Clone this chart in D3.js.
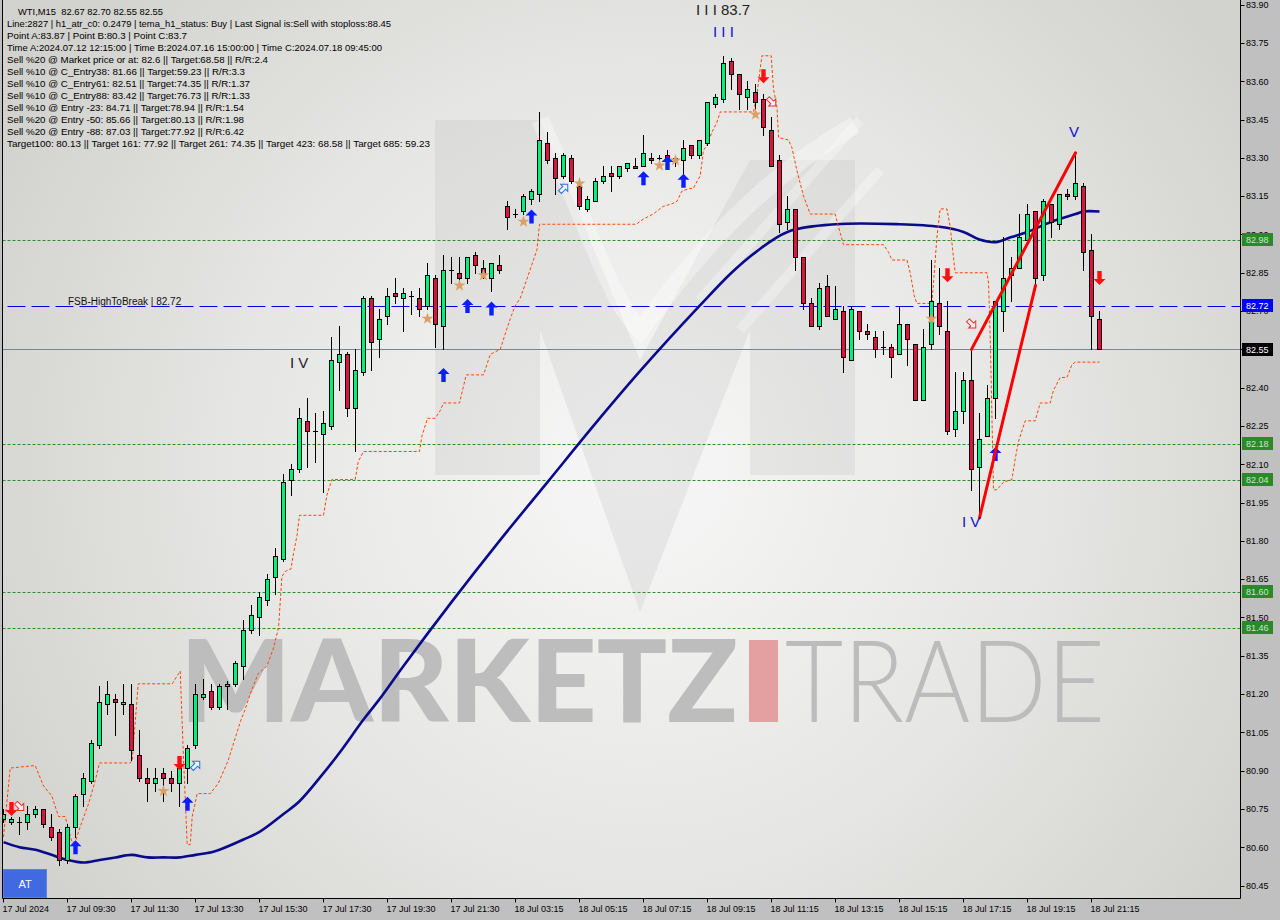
<!DOCTYPE html>
<html><head><meta charset="utf-8">
<script src="https://cdn.jsdelivr.net/npm/d3@7"></script>
<style>html,body{margin:0;padding:0;background:#c0c0c0;}svg{display:block;}text{white-space:pre;}</style>
</head><body><svg id="c" width="1280" height="920"></svg>
<script>
// ---------------- DATA ----------------
const candleOpen  = [80.71,80.70,80.70,80.70,80.73,80.75,80.68,80.66,80.55,80.68,80.81,80.86,81.00,81.16,81.18,81.16,81.16,80.96,80.87,80.85,80.89,80.87,80.85,80.91,81.00,81.19,81.21,81.15,81.23,81.24,81.31,81.45,81.50,81.57,81.66,81.73,82.04,82.08,82.27,82.23,82.22,82.25,82.50,82.53,82.32,82.46,82.75,82.59,82.68,82.77,82.75,82.76,82.75,82.72,82.83,82.64,82.86,82.85,82.83,82.92,82.87,82.83,82.88,83.11,83.08,83.09,83.14,83.16,83.36,83.30,83.23,83.30,83.19,83.10,83.13,83.21,83.24,83.23,83.26,83.27,83.27,83.30,83.30,83.31,83.30,83.29,83.35,83.31,83.36,83.51,83.53,83.68,83.63,83.54,83.56,83.53,83.41,83.29,83.05,83.10,82.91,82.73,82.64,82.80,82.67,82.70,82.51,82.70,82.62,82.60,82.56,82.56,82.53,82.65,82.57,82.35,82.57,82.73,82.62,82.24,82.31,82.43,82.09,82.21,82.36,82.70,82.84,82.87,82.98,83.09,82.84,83.12,83.04,83.16,83.15,83.19,82.94,82.67];
const candleHigh  = [80.75,80.72,80.72,80.76,80.76,80.75,80.73,80.67,80.69,80.81,80.89,81.02,81.23,81.25,81.20,81.24,81.24,81.06,80.91,80.91,80.91,80.90,80.94,81.00,81.24,81.26,81.24,81.24,81.25,81.33,81.49,81.55,81.60,81.67,81.77,82.06,82.10,82.32,82.36,82.30,82.31,82.60,82.64,82.54,82.55,82.76,82.76,82.71,82.79,82.83,82.79,82.78,82.79,82.89,82.84,82.92,82.91,82.91,82.91,82.93,82.90,82.89,82.92,83.13,83.10,83.16,83.18,83.48,83.40,83.32,83.32,83.31,83.22,83.15,83.22,83.27,83.27,83.27,83.28,83.30,83.39,83.32,83.31,83.33,83.30,83.37,83.35,83.37,83.52,83.55,83.70,83.69,83.63,83.60,83.59,83.55,83.46,83.31,83.15,83.10,82.91,82.75,82.81,82.84,82.80,82.72,82.72,82.70,82.65,82.62,82.62,82.57,82.72,82.65,82.57,82.63,82.90,82.87,82.74,82.46,82.46,82.55,82.30,82.41,82.74,82.99,82.91,83.08,83.12,83.09,83.14,83.12,83.16,83.18,83.32,83.20,83.00,82.70];
const candleLow   = [80.70,80.69,80.65,80.67,80.72,80.68,80.63,80.53,80.54,80.64,80.76,80.85,80.99,81.12,81.04,81.12,80.94,80.86,80.78,80.82,80.78,80.82,80.76,80.85,80.99,81.18,81.14,81.14,81.14,81.23,81.26,81.44,81.43,81.55,81.59,81.72,81.98,82.07,82.09,82.11,81.99,82.24,82.39,82.29,82.15,82.45,82.47,82.52,82.65,82.73,82.62,82.69,82.68,82.71,82.56,82.55,82.81,82.81,82.81,82.85,82.83,82.78,82.85,83.02,83.07,83.08,83.12,83.13,83.28,83.16,83.22,83.20,83.10,83.09,83.13,83.20,83.17,83.22,83.25,83.26,83.27,83.28,83.29,83.28,83.27,83.24,83.30,83.30,83.35,83.50,83.52,83.57,83.49,83.49,83.49,83.39,83.27,83.01,83.02,82.86,82.71,82.64,82.63,82.68,82.67,82.46,82.51,82.59,82.59,82.52,82.53,82.44,82.53,82.49,82.35,82.35,82.55,82.61,82.22,82.21,82.26,82.00,81.89,82.21,82.28,82.62,82.74,82.87,82.98,82.80,82.82,82.99,83.02,83.14,83.14,82.86,82.55,82.55];
const candleClose = [80.73,80.71,80.70,80.73,80.75,80.69,80.64,80.55,80.68,80.80,80.87,81.01,81.17,81.20,81.17,81.17,80.98,80.87,80.85,80.87,80.87,80.85,80.91,80.99,81.20,81.20,81.15,81.23,81.24,81.32,81.45,81.51,81.58,81.65,81.74,82.03,82.08,82.28,82.23,82.23,82.26,82.51,82.53,82.32,82.47,82.75,82.58,82.67,82.76,82.76,82.77,82.76,82.71,82.84,82.65,82.86,82.86,82.83,82.91,82.88,82.85,82.89,82.86,83.07,83.08,83.15,83.17,83.37,83.29,83.22,83.31,83.21,83.11,83.14,83.21,83.23,83.23,83.27,83.28,83.26,83.32,83.29,83.30,83.30,83.29,83.34,83.31,83.37,83.52,83.54,83.67,83.63,83.55,83.57,83.52,83.42,83.27,83.04,83.10,82.91,82.73,82.64,82.79,82.68,82.71,82.52,82.71,82.62,82.61,82.55,82.56,82.52,82.65,82.59,82.35,82.56,82.74,82.64,82.23,82.31,82.43,82.08,82.20,82.36,82.74,82.83,82.87,82.99,83.08,82.83,83.13,83.05,83.16,83.15,83.20,82.93,82.68,82.55];

// moving average (bar index, price)
const maIdx = [0,2,4,6,8,10,12,14,16,18,20,22,24,26,27,30,32,35,37,40,42,45,47,50,56,62,68,74,80,87,91,94,98,104,112,117,120,122,124,126,128,131,134,135,137];
const maVal = [80.62,80.60,80.59,80.57,80.55,80.54,80.55,80.56,80.57,80.56,80.56,80.56,80.57,80.58,80.59,80.63,80.66,80.73,80.78,80.89,80.97,81.10,81.18,81.31,81.56,81.80,82.03,82.26,82.48,82.72,82.85,82.93,83.01,83.04,83.04,83.03,83.01,82.98,82.97,82.99,83.01,83.05,83.08,83.09,83.09];

// trailing stop step line (bar index, price)
const stopIdx = [0,0.84,3.96,5.0,6.05,6.88,7.71,8.55,8.96,9.59,10.63,11.46,12.0,15.84,16.09,16.84,21.09,22.09,22.46,22.96,23.34,23.59,24.21,25.84,26.84,28.09,29.59,30.21,30.84,31.84,32.93,33.75,34.38,34.8,35.21,35.93,36.25,36.68,37.0,40.0,40.43,41.05,43.96,44.34,45.0,52.0,52.3,53.0,53.96,54.59,55.0,57.0,57.84,60.0,60.84,62.09,62.71,63.34,63.96,64.59,65.59,66.68,67.0,79.09,79.96,81.21,82.46,83.55,84.18,84.8,85.75,86.21,87.09,87.5,87.93,88.55,89.18,89.59,93.75,94.18,94.8,95.96,96.25,96.68,96.88,98.13,98.55,99.18,100.0,100.84,103.96,104.38,105.0,110.0,110.63,111.05,112.93,113.34,113.84,114.18,116.05,116.25,116.68,117.09,117.93,118.34,118.75,118.96,122.93,123.13,123.34,123.75,124.18,125.0,126.05,126.46,126.88,127.71,128.96,129.59,130.84,131.25,132.09,132.93,133.55,133.96,137.0];
const stopVal = [80.64,80.91,80.92,80.84,80.80,80.72,80.72,80.62,80.62,80.68,80.77,80.86,80.93,80.93,80.94,81.24,81.24,81.29,80.98,80.61,80.61,80.72,80.81,80.81,80.85,80.94,81.09,81.14,81.20,81.28,81.31,81.38,81.46,81.66,81.68,81.69,81.75,81.82,81.90,81.90,81.98,82.04,82.04,82.11,82.15,82.15,82.21,82.28,82.28,82.31,82.34,82.34,82.45,82.45,82.53,82.55,82.61,82.67,82.72,82.75,82.84,82.94,83.04,83.04,83.06,83.08,83.11,83.12,83.13,83.17,83.18,83.18,83.23,83.33,83.35,83.40,83.44,83.48,83.48,83.55,83.70,83.70,83.57,83.50,83.38,83.37,83.34,83.25,83.15,83.08,83.08,83.03,82.96,82.96,82.93,82.90,82.90,82.85,82.76,82.73,82.73,82.81,82.99,83.10,83.10,83.03,82.91,82.85,82.85,82.81,82.60,82.00,82.00,82.03,82.04,82.12,82.19,82.27,82.27,82.34,82.34,82.39,82.44,82.44,82.49,82.50,82.50];

// horizontal levels
const greenLevels = [82.98, 82.18, 82.04, 81.60, 81.46];
const fsbLevel = 82.72;
const lastPrice = 82.55;

// signals (bar index, price)
const blueUpIdx = [9,23,55,58,61,66,80,83,85,124];
const blueUpVal = [80.60,80.77,82.45,82.72,82.71,83.07,83.22,83.28,83.21,82.14];
const redDownIdx = [1,22,95,118,137];
const redDownVal = [80.75,80.93,83.62,82.84,82.83];
const hollowBlueIdx = [24,70];
const hollowBlueVal = [80.92,83.18];
const hollowRedIdx = [2,96,121];
const hollowRedVal = [80.76,83.52,82.65];
const starIdx = [20,53,57,60,65,72,82,84,94,116];
const starVal = [80.82,82.67,82.80,82.84,83.05,83.20,83.27,83.29,83.47,82.67];

// zigzag lines
const zigzagA = {idx:[121,134], val:[82.55,83.32]};
const zigzagB = {idx:[122,129], val:[81.89,82.80]};

// axis ticks
const xTickIdx = [0,8,16,24,32,40,48,56,64,72,80,88,96,104,112,120,128,136];
const xTickLabels = ["17 Jul 2024","17 Jul 09:30","17 Jul 11:30","17 Jul 13:30","17 Jul 15:30","17 Jul 17:30","17 Jul 19:30","17 Jul 21:30","18 Jul 03:15","18 Jul 05:15","18 Jul 07:15","18 Jul 09:15","18 Jul 11:15","18 Jul 13:15","18 Jul 15:15","18 Jul 17:15","18 Jul 19:15","18 Jul 21:15"];
const yTickVals = [83.90,83.75,83.60,83.45,83.30,83.15,83.00,82.85,82.70,82.55,82.40,82.25,82.10,81.95,81.80,81.65,81.50,81.35,81.20,81.05,80.90,80.75,80.60,80.45];

const headerLines = [
 "WTI,M15  82.67 82.70 82.55 82.55",
 "Line:2827 | h1_atr_c0: 0.2479 | tema_h1_status: Buy | Last Signal is:Sell with stoploss:88.45",
 "Point A:83.87 | Point B:80.3 | Point C:83.7",
 "Time A:2024.07.12 12:15:00 | Time B:2024.07.16 15:00:00 | Time C:2024.07.18 09:45:00",
 "Sell %20 @ Market price or at: 82.6 || Target:68.58 || R/R:2.4",
 "Sell %10 @ C_Entry38: 81.66 || Target:59.23 || R/R:3.3",
 "Sell %10 @ C_Entry61: 82.51 || Target:74.35 || R/R:1.37",
 "Sell %10 @ C_Entry88: 83.42 || Target:76.73 || R/R:1.33",
 "Sell %10 @ Entry -23: 84.71 || Target:78.94 || R/R:1.54",
 "Sell %20 @ Entry -50: 85.66 || Target:80.13 || R/R:1.98",
 "Sell %20 @ Entry -88: 87.03 || Target:77.92 || R/R:6.42",
 "Target100: 80.13 || Target 161: 77.92 || Target 261: 74.35 || Target 423: 68.58 || Target 685: 59.23"
];
// rendered widths of the header lines (layout)
const headerWidths = [145,384,180,375,261,238,243,243,237,237,237,423];

// ---------------- DRAW ----------------
const svg = d3.select("#c");
const FONT = "'Liberation Sans', Arial, sans-serif";
const P = {left:2.5, right:1240.5, top:0, bottom:898.5};
const x = d3.scaleLinear().domain([0,137]).range([3.5,1099.5]);
const y = d3.scaleLinear().domain([80.45,83.90]).range([885.5,4.7]);
const px = v => Math.round(y(v)) + 0.5;

const defs = svg.append("defs");
const rg = defs.append("radialGradient").attr("id","bg").attr("gradientUnits","userSpaceOnUse")
  .attr("cx",640).attr("cy",470).attr("r",720);
rg.append("stop").attr("offset","0").attr("stop-color","#f7f7f7");
rg.append("stop").attr("offset","0.55").attr("stop-color","#e6e6e4");
rg.append("stop").attr("offset","1").attr("stop-color","#d2d2ce");
defs.append("clipPath").attr("id","clip").append("rect")
  .attr("x",P.left+0.5).attr("y",0).attr("width",P.right-P.left-1).attr("height",P.bottom);

svg.append("rect").attr("width",1280).attr("height",920).attr("fill","#c0c0c0");
svg.append("rect").attr("x",P.left).attr("y",0).attr("width",P.right-P.left).attr("height",P.bottom).attr("fill","url(#bg)");

const g = svg.append("g").attr("clip-path","url(#clip)");

// watermark
const wm = g.append("g");
wm.append("path").attr("d","M435,475 L435,120 L540,120 L640,360 L750,160 L855,160 L855,475 L750,475 L750,330 L640,612 L540,330 L540,475 Z")
  .attr("fill","#b4b4b4").attr("opacity",0.22);
wm.append("path").attr("d","M540,120 C590,230 610,300 640,330 C700,250 760,180 855,125")
  .attr("fill","none").attr("stroke","#ffffff").attr("stroke-width",18).attr("opacity",0.35);
wm.append("path").attr("d","M700,300 L860,120 M740,330 L880,170")
  .attr("stroke","#ffffff").attr("stroke-width",10).attr("opacity",0.3);
wm.append("text").attr("x",180).attr("y",722).attr("font-family","Lato, Roboto, 'DejaVu Sans', sans-serif")
  .attr("font-weight",900).attr("font-size",114).attr("fill","#bdbdbd").attr("textLength",558)
  .attr("lengthAdjust","spacingAndGlyphs").text("MARKETZ");
wm.append("rect").attr("x",749).attr("y",640).attr("width",29).attr("height",82).attr("fill","#e4a0a0");
wm.append("text").attr("x",785).attr("y",722).attr("font-family","Lato, Roboto, 'DejaVu Sans', sans-serif")
  .attr("font-weight",300).attr("font-size",114).attr("fill","#bcbcbc").attr("textLength",320)
  .attr("lengthAdjust","spacingAndGlyphs").text("TRADE");

// horizontal levels
greenLevels.forEach(v=>{
  g.append("line").attr("x1",P.left).attr("x2",P.right).attr("y1",px(v)).attr("y2",px(v))
   .attr("stroke","#2e8b2e").attr("stroke-width",1).attr("stroke-dasharray","3,2");
});
g.append("line").attr("x1",P.left).attr("x2",P.right).attr("y1",px(lastPrice)).attr("y2",px(lastPrice))
  .attr("stroke","#7a8594").attr("stroke-width",1);
g.append("line").attr("x1",P.left+5).attr("x2",P.right).attr("y1",px(fsbLevel)).attr("y2",px(fsbLevel))
  .attr("stroke","#0000e6").attr("stroke-width",1).attr("stroke-dasharray","18,6");
g.append("text").attr("x",68).attr("y",px(fsbLevel)-2).attr("font-family",FONT).attr("font-size",10)
  .attr("fill","#111").text("FSB-HighToBreak | " + fsbLevel.toFixed(2));

// moving average
g.append("path").datum(maIdx.map((d,i)=>[d,maVal[i]]))
  .attr("d", d3.line().x(d=>x(d[0])).y(d=>y(d[1])).curve(d3.curveCatmullRom.alpha(0.5)))
  .attr("fill","none").attr("stroke","#0a0a8c").attr("stroke-width",2.6);

// trailing stop
g.append("path").datum(stopIdx.map((d,i)=>[d,stopVal[i]]))
  .attr("d", d3.line().x(d=>x(d[0])).y(d=>y(d[1])))
  .attr("fill","none").attr("stroke","#ff4500").attr("stroke-width",1).attr("stroke-dasharray","3,2");

// candles
const cg = g.append("g");
candleOpen.forEach((o,i)=>{
  const c = candleClose[i], h = candleHigh[i], l = candleLow[i];
  const cx = x(i);
  cg.append("line").attr("x1",cx).attr("x2",cx).attr("y1",Math.round(y(h))).attr("y2",Math.round(y(l))+1)
    .attr("stroke","#000").attr("stroke-width",1);
  const top = Math.round(y(Math.max(o,c))), bot = Math.round(y(Math.min(o,c)));
  if (bot - top < 1) {
    cg.append("line").attr("x1",cx-2.5).attr("x2",cx+2.5).attr("y1",top+0.5).attr("y2",top+0.5)
      .attr("stroke","#000").attr("stroke-width",1);
  } else {
    cg.append("rect").attr("x",cx-2).attr("y",top+0.5).attr("width",4).attr("height",bot-top)
      .attr("fill", c>o ? "#00f07a" : "#dc143c").attr("stroke","#000").attr("stroke-width",1);
  }
});

// markers
const mg = g.append("g");
const upPath = "M0,-7 L6,-1 L2.2,-1 L2.2,7 L-2.2,7 L-2.2,-1 L-6,-1 Z";
const downPath = "M0,7 L6,1 L2.2,1 L2.2,-7 L-2.2,-7 L-2.2,1 L-6,1 Z";
const hollowPath = "M-5,-2 L1,-2 L1,-5 L6,0 L1,5 L1,2 L-5,2 Z";
blueUpIdx.forEach((d,i)=>mg.append("path").attr("d",upPath).attr("fill","#0a1eff")
  .attr("transform",`translate(${x(d)},${y(blueUpVal[i])})`));
redDownIdx.forEach((d,i)=>mg.append("path").attr("d",downPath).attr("fill","#ff1010")
  .attr("transform",`translate(${x(d)},${y(redDownVal[i])})`));
hollowBlueIdx.forEach((d,i)=>mg.append("path").attr("d",hollowPath).attr("fill","#eef4ff")
  .attr("stroke","#2f6fe0").attr("stroke-width",1)
  .attr("transform",`translate(${x(d)},${y(hollowBlueVal[i])}) rotate(-45)`));
hollowRedIdx.forEach((d,i)=>mg.append("path").attr("d",hollowPath).attr("fill","#fff2f2")
  .attr("stroke","#f03030").attr("stroke-width",1)
  .attr("transform",`translate(${x(d)},${y(hollowRedVal[i])}) rotate(45)`));
const star = d3.symbol().type(d3.symbolStar).size(45)();
starIdx.forEach((d,i)=>mg.append("path").attr("d",star).attr("fill","#dba066")
  .attr("transform",`translate(${x(d)},${y(starVal[i])})`));

// zigzag
[zigzagA, zigzagB].forEach(z=>{
  g.append("line").attr("x1",x(z.idx[0])).attr("y1",y(z.val[0])).attr("x2",x(z.idx[1])).attr("y2",y(z.val[1]))
   .attr("stroke","#ff0000").attr("stroke-width",3).attr("stroke-linecap","round");
});

// wave labels
const wl = g.append("g").attr("font-family",FONT).attr("font-size",15);
wl.append("text").attr("x",696).attr("y",15).attr("fill","#222").text("I I I 83.7");
wl.append("text").attr("x",713).attr("y",37).attr("fill","#1010d0").text("I I I");
wl.append("text").attr("x",290).attr("y",368).attr("fill","#222").text("I V");
wl.append("text").attr("x",1069).attr("y",137).attr("fill","#1010d0").text("V");
wl.append("text").attr("x",962).attr("y",527).attr("fill","#1010d0").text("I V");

// header text
const ht = svg.append("g").attr("font-family",FONT).attr("font-size",9.8).attr("fill","#000");
headerLines.forEach((t,k)=>{
  ht.append("text").attr("x", k===0 ? 18 : 7).attr("y",14.5+12*k)
    .attr("textLength",headerWidths[k]).attr("lengthAdjust","spacingAndGlyphs").text(t);
});

// AT button
svg.append("rect").attr("x",3.5).attr("y",869.5).attr("width",43).attr("height",28).attr("fill","#4169e1").attr("stroke","#5a7fe8");
svg.append("text").attr("x",25).attr("y",888).attr("text-anchor","middle").attr("font-family",FONT)
  .attr("font-size",11).attr("fill","#fff").text("AT");

// frame
svg.append("line").attr("x1",P.left).attr("x2",P.left).attr("y1",0).attr("y2",P.bottom).attr("stroke","#000");
svg.append("line").attr("x1",P.right).attr("x2",P.right).attr("y1",0).attr("y2",P.bottom).attr("stroke","#000");
svg.append("line").attr("x1",P.left).attr("x2",P.right).attr("y1",P.bottom).attr("y2",P.bottom).attr("stroke","#000");

// price label boxes (on axis)
const boxes = [
  ...greenLevels.map(v=>({v, bg:"#2a8a2a", fg:"#cfe3cf"})),
  {v:fsbLevel, bg:"#0000ff", fg:"#ffffff"},
  {v:lastPrice, bg:"#000000", fg:"#ffffff"}
];
const boxTop = v => Math.round(y(v)-6.5);

// y axis ticks/labels (labels hidden where a box covers them, as on the original)
const ya = svg.append("g").attr("font-family",FONT).attr("font-size",9).attr("fill","#000");
yTickVals.forEach((v,k)=>{
  ya.append("line").attr("x1",P.right).attr("x2",P.right+4).attr("y1",px(v)).attr("y2",px(v)).attr("stroke","#000");
  const ty = y(v);
  const cover = boxes.find(b=>Math.abs(y(b.v)-ty) < 11 && b.v !== v);
  const same = boxes.find(b=>b.v === v);
  if (same) return;
  const t = ya.append("text").attr("x",1246).attr("y",ty+3.3).text(v.toFixed(2));
  if (cover) {
    // only the part of the label outside the box stays visible
    const bt = boxTop(cover.v), bb = bt + 13;
    const cid = "yc"+k;
    const cp = defs.append("clipPath").attr("id",cid);
    if (ty < y(cover.v)) cp.append("rect").attr("x",1240).attr("y",ty-8).attr("width",40).attr("height",Math.max(0,bt-(ty-8)));
    else cp.append("rect").attr("x",1240).attr("y",bb).attr("width",40).attr("height",Math.max(0,ty+8-bb));
    t.attr("clip-path",`url(#${cid})`);
  }
});
// x axis
const xa = svg.append("g").attr("font-family",FONT).attr("font-size",9).attr("fill","#000");
xTickIdx.forEach((d,i)=>{
  xa.append("line").attr("x1",x(d)).attr("x2",x(d)).attr("y1",P.bottom).attr("y2",P.bottom+4).attr("stroke","#000");
  xa.append("text").attr("x",x(d)-1).attr("y",912).text(xTickLabels[i]);
});

boxes.forEach(b=>{
  const cy = y(b.v);
  svg.append("rect").attr("x",1242).attr("y",boxTop(b.v)).attr("width",31).attr("height",13).attr("fill",b.bg);
  svg.append("text").attr("x",1246).attr("y",cy+3.3).attr("font-family",FONT).attr("font-size",9)
    .attr("fill",b.fg).text(b.v.toFixed(2));
});
</script>
</body></html>
